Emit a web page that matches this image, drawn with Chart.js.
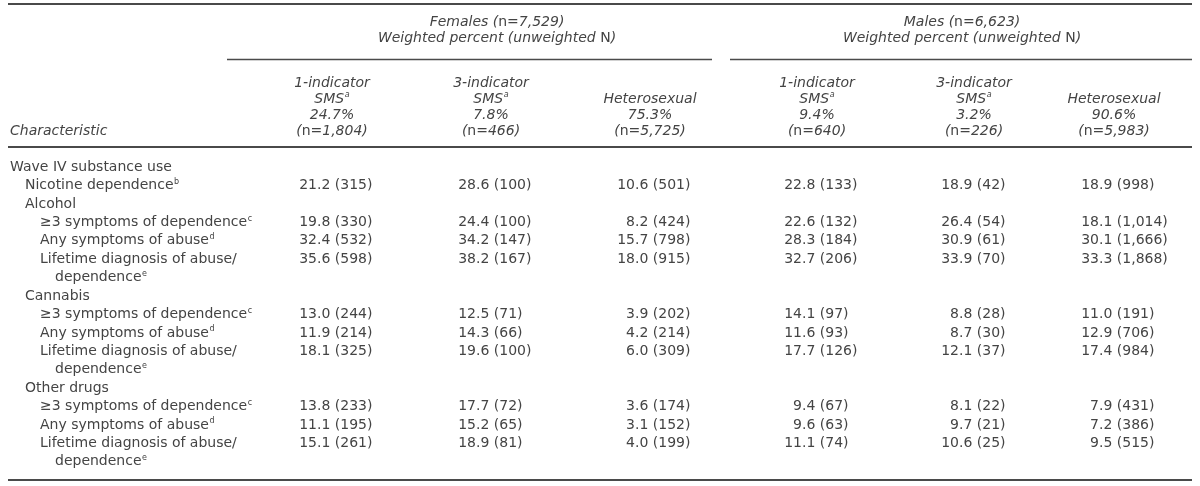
<!DOCTYPE html>
<html>
<head>
<meta charset="utf-8">
<script src="https://cdn.jsdelivr.net/npm/chart.js@4.4.1/dist/chart.umd.min.js"></script>
<style>
  html, body { margin: 0; padding: 0; background: #fff; }
  #wrap { width: 1200px; height: 486px; }
</style>
</head>
<body>
<div id="wrap"><canvas id="myChart" width="1200" height="486"></canvas></div>
<script>
// row labels, footnote letters and nesting level of each body row
var rowLabels = ['Wave IV substance use', 'Nicotine dependence', 'Alcohol',
  '\u22653 symptoms of dependence', 'Any symptoms of abuse', 'Lifetime diagnosis of abuse/', 'dependence',
  'Cannabis',
  '\u22653 symptoms of dependence', 'Any symptoms of abuse', 'Lifetime diagnosis of abuse/', 'dependence',
  'Other drugs',
  '\u22653 symptoms of dependence', 'Any symptoms of abuse', 'Lifetime diagnosis of abuse/', 'dependence'];
var rowSup = ['', 'b', '', 'c', 'd', '', 'e', '', 'c', 'd', '', 'e', '', 'c', 'd', '', 'e'];
var rowLevel = [0, 1, 1, 2, 2, 2, 3, 1, 2, 2, 2, 3, 1, 2, 2, 2, 3];

// group headers
var groupNames = ['Females', 'Males'];
var groupN = [7529, 6623];
var colNames = ['1-indicator', '3-indicator', 'Heterosexual'];
var femHeadPct = [24.7, 7.8, 75.3];
var femHeadN = [1804, 466, 5725];
var maleHeadPct = [9.4, 3.2, 90.6];
var maleHeadN = [640, 226, 5983];

// weighted percent / unweighted N per column
var femSms1Pct = [null, 21.2, null, 19.8, 32.4, 35.6, null, null, 13.0, 11.9, 18.1, null, null, 13.8, 11.1, 15.1, null];
var femSms1N   = [null, 315, null, 330, 532, 598, null, null, 244, 214, 325, null, null, 233, 195, 261, null];
var femSms3Pct = [null, 28.6, null, 24.4, 34.2, 38.2, null, null, 12.5, 14.3, 19.6, null, null, 17.7, 15.2, 18.9, null];
var femSms3N   = [null, 100, null, 100, 147, 167, null, null, 71, 66, 100, null, null, 72, 65, 81, null];
var femHetPct  = [null, 10.6, null, 8.2, 15.7, 18.0, null, null, 3.9, 4.2, 6.0, null, null, 3.6, 3.1, 4.0, null];
var femHetN    = [null, 501, null, 424, 798, 915, null, null, 202, 214, 309, null, null, 174, 152, 199, null];
var maleSms1Pct = [null, 22.8, null, 22.6, 28.3, 32.7, null, null, 14.1, 11.6, 17.7, null, null, 9.4, 9.6, 11.1, null];
var maleSms1N   = [null, 133, null, 132, 184, 206, null, null, 97, 93, 126, null, null, 67, 63, 74, null];
var maleSms3Pct = [null, 18.9, null, 26.4, 30.9, 33.9, null, null, 8.8, 8.7, 12.1, null, null, 8.1, 9.7, 10.6, null];
var maleSms3N   = [null, 42, null, 54, 61, 70, null, null, 28, 30, 37, null, null, 22, 21, 25, null];
var maleHetPct  = [null, 18.9, null, 18.1, 30.1, 33.3, null, null, 11.0, 12.9, 17.4, null, null, 7.9, 7.2, 9.5, null];
var maleHetN    = [null, 998, null, 1014, 1666, 1868, null, null, 191, 706, 984, null, null, 431, 386, 515, null];

// layout: decimal-point anchor of each value column (x scale is in pixels)
var colAnchor = [317, 476, 635, 802, 959, 1099];
var groupCenter = [497, 962];
var colShift = 15;           // header centre relative to the anchor
var levelIndent = 15;
var ink = '#444';
var rule = '#4a4a4a';
var fam = '"DejaVu Sans", sans-serif';
var fs = 14;

var columns = [
  [femSms1Pct, femSms1N], [femSms3Pct, femSms3N], [femHetPct, femHetN],
  [maleSms1Pct, maleSms1N], [maleSms3Pct, maleSms3N], [maleHetPct, maleHetN]
];

function fmtN(n) { return n.toLocaleString('en-US'); }

function font(it, size) {
  return (it ? 'italic ' : '') + (size || fs) + 'px ' + fam;
}

// segments: {t, i (italic), s (superscript)}
function richWidth(ctx, segs) {
  var w = 0;
  segs.forEach(function (s) {
    ctx.font = font(s.i, s.s ? 8 : fs);
    w += ctx.measureText(s.t).width + (s.s ? 0.5 : 0);
  });
  return w;
}
function drawRich(ctx, segs, x, y, align) {
  var w = richWidth(ctx, segs);
  var cx = align === 'center' ? x - w / 2 : x;
  ctx.textAlign = 'left';
  ctx.textBaseline = 'middle';
  segs.forEach(function (s) {
    ctx.font = font(s.i, s.s ? 8 : fs);
    ctx.fillText(s.t, cx + (s.s ? 0.5 : 0), s.s ? y - 4 : y);
    cx += ctx.measureText(s.t).width + (s.s ? 0.5 : 0);
  });
}
function nSegs(n) {
  return [{t: '(', i: true}, {t: 'n', i: false}, {t: '=', i: false}, {t: fmtN(n) + ')', i: true}];
}
function hline(ctx, x1, x2, y, w) {
  ctx.save();
  ctx.strokeStyle = rule;
  ctx.lineWidth = w;
  ctx.beginPath();
  ctx.moveTo(x1, y);
  ctx.lineTo(x2, y);
  ctx.stroke();
  ctx.restore();
}

var tablePlugin = {
  id: 'table',
  afterDatasetsDraw: function (chart) {
    var ctx = chart.ctx;
    var xScale = chart.scales.x;
    var yScale = chart.scales.y;
    var area = chart.chartArea;
    ctx.save();
    ctx.fillStyle = ink;

    // rules
    hline(ctx, 8, 1192, 4, 2);
    hline(ctx, 227, 712, 59.5, 1.3);
    hline(ctx, 730, 1192, 59.5, 1.3);
    hline(ctx, 8, 1192, 147, 2);
    hline(ctx, 8, 1192, area.bottom + 9, 2);

    // group headings
    groupNames.forEach(function (g, gi) {
      var cx = xScale.getPixelForValue(groupCenter[gi]);
      drawRich(ctx, [{t: g + ' ', i: true}].concat(nSegs(groupN[gi])), cx, 22, 'center');
      drawRich(ctx, [{t: 'Weighted percent (unweighted ', i: true}, {t: 'N', i: false}, {t: ')', i: true}], cx, 38, 'center');
    });

    // column headings
    var headPct = femHeadPct.concat(maleHeadPct);
    var headN = femHeadN.concat(maleHeadN);
    colAnchor.forEach(function (a, j) {
      var cx = xScale.getPixelForValue(a) + colShift;
      var k = j % 3;
      var lines = [];
      if (k < 2) {
        lines.push([{t: colNames[k], i: true}]);
        lines.push([{t: 'SMS', i: true}, {t: 'a', i: true, s: true}]);
      } else {
        lines.push(null);
        lines.push([{t: colNames[k], i: true}]);
      }
      lines.push([{t: headPct[j].toFixed(1) + '%', i: true}]);
      lines.push(nSegs(headN[j]));
      lines.forEach(function (l, li) {
        if (l) drawRich(ctx, l, cx, 83 + li * 16, 'center');
      });
    });
    drawRich(ctx, [{t: 'Characteristic', i: true}], 10, 131, 'left');

    // row labels
    rowLabels.forEach(function (lab, i) {
      var y = yScale.getPixelForValue(i);
      var segs = [{t: lab, i: false}];
      if (rowSup[i]) segs.push({t: rowSup[i], i: false, s: true});
      drawRich(ctx, segs, 10 + rowLevel[i] * levelIndent, y, 'left');
    });

    // cells, placed at each point of the datasets
    chart.data.datasets.forEach(function (ds, j) {
      var meta = chart.getDatasetMeta(j);
      meta.data.forEach(function (el, i) {
        var d = ds.data[i];
        var parts = d.pct.toFixed(1).split('.');
        ctx.font = font(false);
        ctx.textBaseline = 'middle';
        ctx.textAlign = 'right';
        ctx.fillText(parts[0], el.x, el.y);
        ctx.textAlign = 'left';
        ctx.fillText('.' + parts[1] + ' (' + fmtN(d.n) + ')', el.x, el.y);
      });
    });
    ctx.restore();
  }
};

var datasets = columns.map(function (c, j) {
  var pts = [];
  c[0].forEach(function (v, i) {
    if (v !== null) pts.push({x: colAnchor[j], y: i, pct: v, n: c[1][i]});
  });
  return {label: 'col' + j, data: pts, pointRadius: 0, pointHoverRadius: 0, showLine: false};
});

var ctx = document.getElementById('myChart').getContext('2d');
var chart = new Chart(ctx, {
  type: 'scatter',
  data: {datasets: datasets},
  options: {
    responsive: false,
    animation: false,
    events: [],
    layout: {padding: {top: 158, bottom: 15, left: 0, right: 0}},
    plugins: {legend: {display: false}, tooltip: {enabled: false}},
    scales: {
      x: {type: 'linear', min: 0, max: 1200, display: false},
      y: {type: 'linear', min: -0.5, max: rowLabels.length - 0.5, reverse: true, display: false}
    }
  },
  plugins: [tablePlugin]
});
</script>
</body>
</html>
